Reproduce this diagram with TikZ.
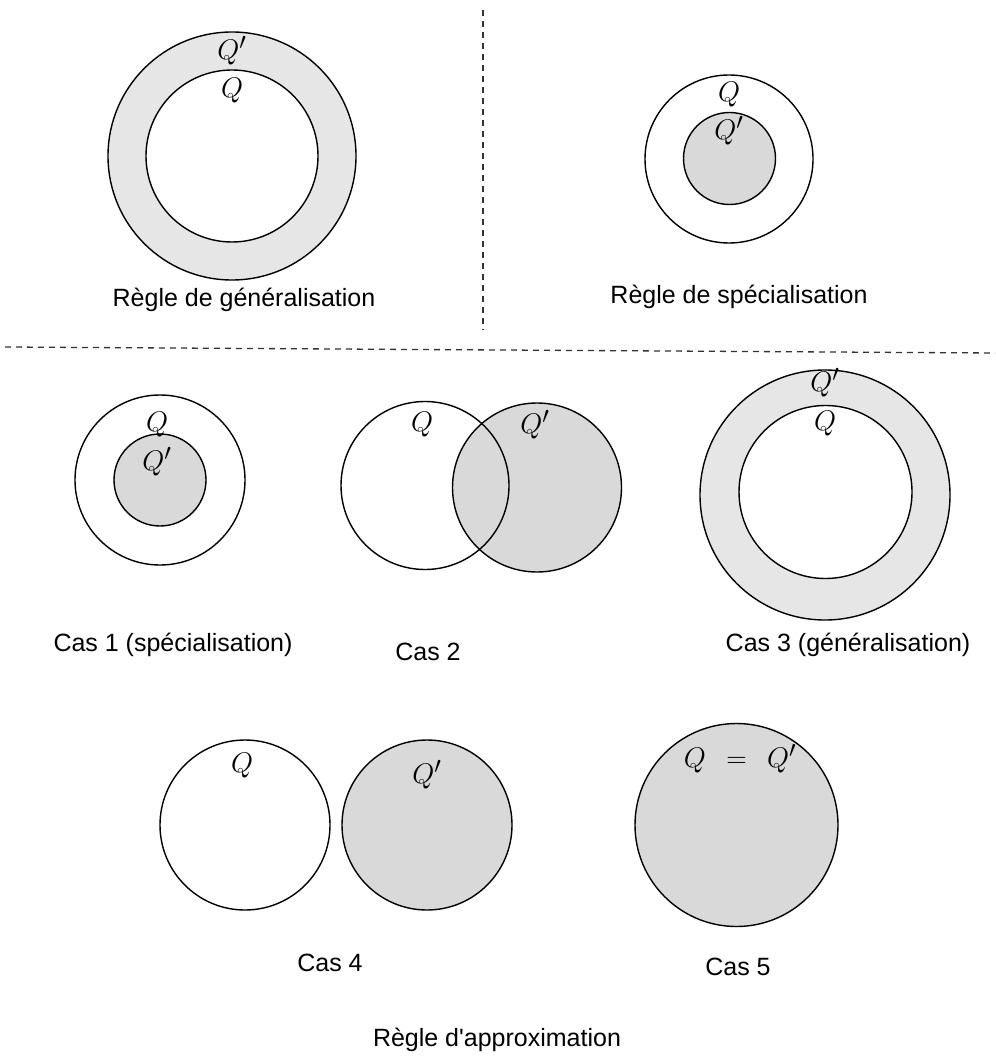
\documentclass[tikz,border=0pt]{standalone}
\usepackage{fontspec}
\setmainfont{Liberation Sans}[Ligatures=TeXOff]
\definecolor{ringgray}{HTML}{E6E6E6}
\definecolor{fillgray}{HTML}{D9D9D9}
\begin{document}
\begin{tikzpicture}[x=1pt,y=-1pt,
  set/.style={circle,draw=black,line width=1.4pt,inner sep=0pt},
  lbl/.style={font=\fontsize{25}{30}\selectfont,inner sep=0pt},
  qlbl/.style={font=\fontsize{24.88}{30}\selectfont,inner sep=0pt,scale=1.14},
  sep/.style={line width=1.3pt,dash pattern=on 6pt off 5pt,black!80}]
\useasboundingbox (0,0) rectangle (995,1064);
% separators
\coordinate (h1) at (5,347);
\coordinate (h2) at (995,353);
\coordinate (v1) at (483,10);
\coordinate (v2) at (483,330);
\draw[sep] (h1) -- (h2);
\draw[sep] (v1) -- (v2);
% Règle de généralisation
\node[set,fill=ringgray,minimum size=248pt] (gout) at (232,156) {};
\node[set,fill=white,minimum size=172pt] (gin) at (232,156) {};
\node[qlbl] (gq1) at (232,51) {$Q'$};
\node[qlbl] (gq) at (232,91) {$Q$};
\node[lbl] (gt) at (244,300) {Règle de généralisation};
% Règle de spécialisation
\node[set,fill=white,minimum size=168pt] (sout) at (729,159) {};
\node[set,fill=fillgray,minimum size=92pt] (sin) at (729.5,158.5) {};
\node[qlbl] (sq) at (729,95) {$Q$};
\node[qlbl] (sq1) at (729,131) {$Q'$};
\node[lbl] (st) at (739,297) {Règle de spécialisation};
% Cas 1
\node[set,fill=white,minimum size=170pt] (c1out) at (160,480) {};
\node[set,fill=fillgray,minimum size=92pt] (c1in) at (160,480) {};
\node[qlbl] (c1q) at (157,425) {$Q$};
\node[qlbl] (c1q1) at (157,462) {$Q'$};
\node[lbl] (c1t) at (173,645) {Cas 1 (spécialisation)};
% Cas 2
\node[set,fill=fillgray,minimum size=169pt] (c2b) at (537,487.5) {};
\node[set,minimum size=168pt] (c2a) at (425,485.5) {};
\node[qlbl] (c2q) at (422,425) {$Q$};
\node[qlbl] (c2q1) at (535,425) {$Q'$};
\node[lbl] (c2t) at (428,652) {Cas 2};
% Cas 3
\node[set,fill=ringgray,minimum size=250pt] (c3out) at (825,495) {};
\node[set,fill=white,minimum size=173pt] (c3in) at (825.5,492) {};
\node[qlbl] (c3q1) at (825,383) {$Q'$};
\node[qlbl] (c3q) at (825,424) {$Q$};
\node[lbl] (c3t) at (848,645) {Cas 3 (généralisation)};
% Cas 4
\node[set,fill=white,minimum size=170pt] (c4a) at (245,825) {};
\node[set,fill=fillgray,minimum size=170pt] (c4b) at (427,825) {};
\node[qlbl] (c4q) at (242,766) {$Q$};
\node[qlbl] (c4q1) at (427,775) {$Q'$};
\node[lbl] (c4t) at (330,963) {Cas 4};
% Cas 5
\node[set,fill=fillgray,minimum size=203pt] (c5) at (736.5,825) {};
\node[qlbl] (c5q) at (740,759) {$Q\;\,=\;\,Q'$};
\node[lbl] (c5t) at (738,967) {Cas 5};
% global title
\node[lbl] (title) at (497,1040) {Règle d'approximation};
\end{tikzpicture}
\end{document}
